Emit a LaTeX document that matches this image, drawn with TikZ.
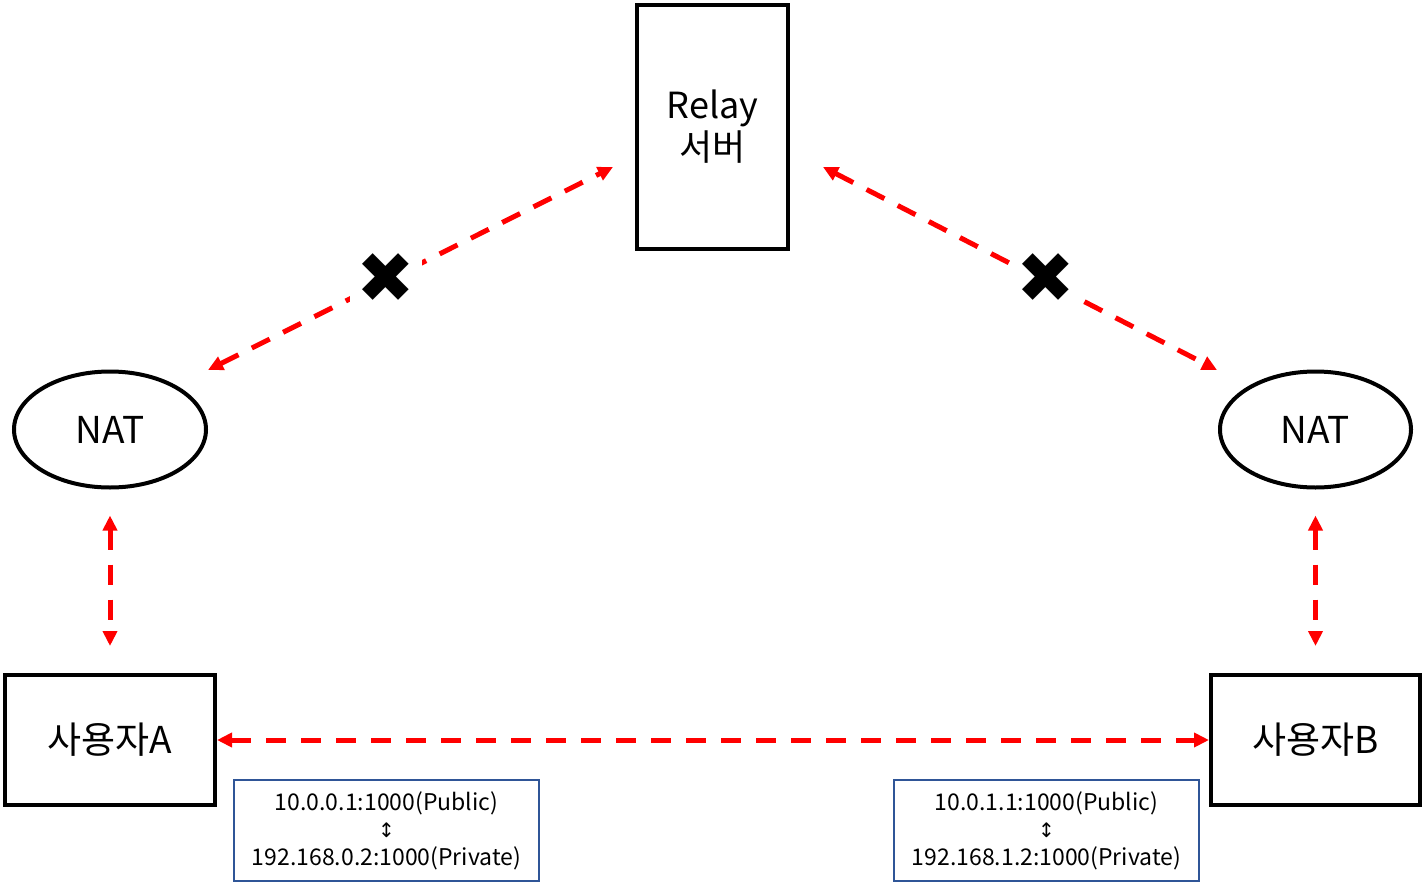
\documentclass[tikz,border=0pt]{standalone}
\usepackage{fontspec}
\setmainfont{Noto Sans CJK KR}
\newfontfamily\symfont{DejaVu Sans}
\usetikzlibrary{shapes.geometric,arrows.meta}
\definecolor{infoblue}{HTML}{2F5597}
\definecolor{linkred}{HTML}{FF0000}
\begin{document}
\begin{tikzpicture}[x=1pt,y=-1pt,
  bigbox/.style={draw=black, line width=4pt, inner sep=0pt, font=\fontsize{37}{42}\selectfont, align=center},
  natnode/.style={ellipse, draw=black, line width=4pt, inner sep=0pt, font=\fontsize{37}{42}\selectfont},
  infobox/.style={draw=infoblue, line width=2pt, inner sep=0pt, minimum width=305pt, minimum height=101pt, font=\fontsize{23}{27.5}\selectfont, align=center},
  link/.style={draw=linkred, line width=5pt, dash pattern=on 20pt off 15pt, {Triangle[length=15pt,width=14pt]}-{Triangle[length=15pt,width=14pt]}},
  blocked/.style={font=\symfont\fontsize{70}{70}\selectfont, inner sep=0pt, text=black}
]
\useasboundingbox (0,0) rectangle (1425,886);
\fill[white] (0,0) rectangle (1425,886);

\node[bigbox, font=\fontsize{36}{42}\selectfont, minimum width=151pt, minimum height=244pt] (relay) at (712.5,127) {Relay\\서버};
\node[natnode, minimum width=192pt, minimum height=116pt] (natL) at (110,429.5) {NAT};
\node[natnode, minimum width=191pt, minimum height=116pt] (natR) at (1315.5,429.5) {NAT};
\node[bigbox, minimum width=210pt, minimum height=130pt] (userA) at (110,740) {사용자A};
\node[bigbox, minimum width=209pt, minimum height=130pt] (userB) at (1315.5,740) {사용자B};
\node[infobox] (infoA) at (386.5,830.5) {10.0.0.1:1000(Public)\\{\symfont\fontsize{20}{27.5}\selectfont ↕}\\192.168.0.2:1000(Private)};
\node[infobox] (infoB) at (1046.5,830.5) {10.0.1.1:1000(Public)\\{\symfont\fontsize{20}{27.5}\selectfont ↕}\\192.168.1.2:1000(Private)};

\coordinate (lA) at (208,370);
\coordinate (lB) at (613,167);
\coordinate (rA) at (823,167);
\coordinate (rB) at (1217,370);

\draw[link] (lA) -- (lB);
\draw[link] (rA) -- (rB);
\draw[link, shorten <=26pt, shorten >=27pt] (natL.south) -- (userA.north);
\draw[link, shorten <=26pt, shorten >=27pt] (natR.south) -- (userB.north);
\draw[link] (userA.east) -- (userB.west);

\node[blocked, fill=white, minimum width=72pt, minimum height=52pt] (xL) at (386,278) {✖};
\node[blocked, fill=white, minimum width=72pt, minimum height=52pt] (xR) at (1046,278) {✖};
\end{tikzpicture}
\end{document}
